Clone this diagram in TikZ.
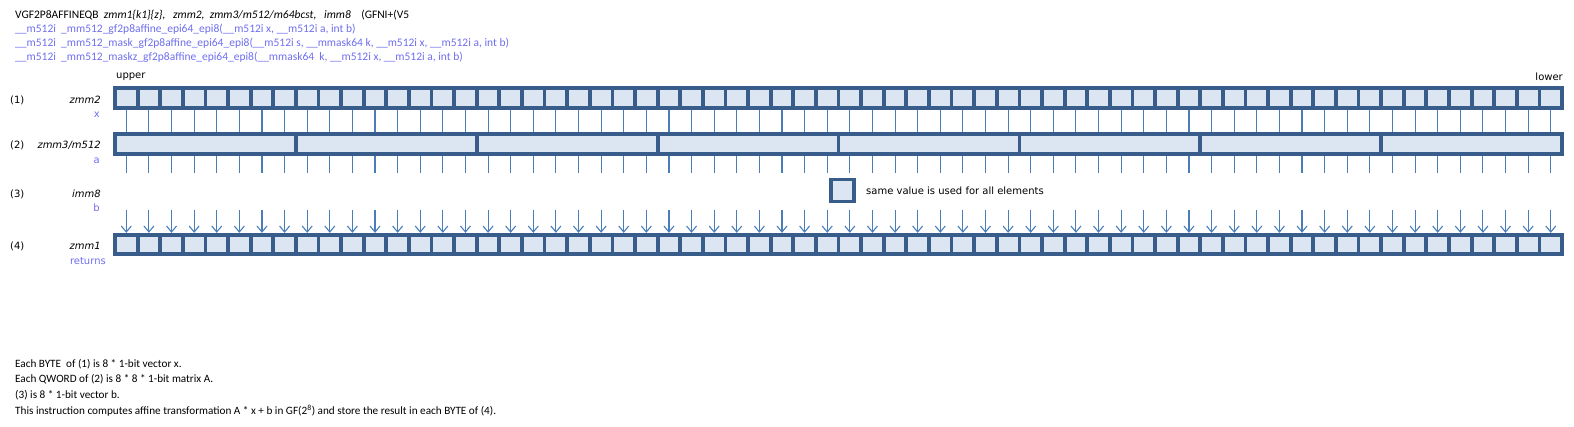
\documentclass[tikz,border=0pt]{standalone}
\usepackage{fontspec}
\setmainfont{Carlito}
\newfontfamily\lblfont{DejaVu Sans}
\usetikzlibrary{arrows.meta}

\definecolor{regline}{RGB}{56,93,138}
\definecolor{regfill}{RGB}{220,230,242}
\definecolor{conline}{RGB}{74,126,187}
\definecolor{argblue}{RGB}{110,110,240}

\begin{document}
\begin{tikzpicture}[x=1pt,y=-1pt,
  txt/.style={font=\fontsize{11.5}{13}\selectfont,inner sep=0pt,anchor=west},
  note/.style={font=\fontsize{11.2}{13}\selectfont,inner sep=0pt,anchor=west},
  lbl/.style={font=\lblfont\fontsize{10}{12}\selectfont,inner sep=0pt},
  cell/.style={draw=regline,fill=regfill,line width=3.8pt,minimum height=20pt,inner sep=0pt},
  con/.style={draw=conline,line width=1.1pt}]

  % Fixed page size
  \useasboundingbox (0,0) rectangle (1574,427);

  % Instruction and intrinsics
  \node[txt] (ins) at (15,15) {VGF2P8AFFINEQB \ \textit{zmm1\{k1\}\{z\}, \ \ zmm2, \ zmm3/m512/m64bcst, \ \ imm8} \ \ \ (GFNI+(V5};
  \node[txt,argblue] (intr1) at (15,29) {\_\_m512i \ \_mm512\_gf2p8affine\_epi64\_epi8(\_\_m512i x, \_\_m512i a, int b)};
  \node[txt,argblue] (intr2) at (15,43) {\_\_m512i \ \_mm512\_mask\_gf2p8affine\_epi64\_epi8(\_\_m512i s, \_\_mmask64 k, \_\_m512i x, \_\_m512i a, int b)};
  \node[txt,argblue] (intr3) at (15,57) {\_\_m512i \ \_mm512\_maskz\_gf2p8affine\_epi64\_epi8(\_\_mmask64 \ k, \_\_m512i x, \_\_m512i a, int b)};

  % Row labels
  \node[lbl,anchor=west] (n1) at (10,100) {(1)};
  \node[lbl,anchor=east] (z2) at (101,100) {\itshape zmm2};
  \node[lbl,anchor=east,argblue] (vx) at (100,115) {x};
  \node[lbl,anchor=west] (n2) at (10,145) {(2)};
  \node[lbl,anchor=east] (z3) at (101,145) {\itshape zmm3/m512};
  \node[lbl,anchor=east,argblue] (va) at (100,161) {a};
  \node[lbl,anchor=west] (n3) at (10,194) {(3)};
  \node[lbl,anchor=east] (im) at (101,194) {\itshape imm8};
  \node[lbl,anchor=east,argblue] (vb) at (100,208) {b};
  \node[lbl,anchor=west] (n4) at (10,246) {(4)};
  \node[lbl,anchor=east] (z1) at (101,246) {\itshape zmm1};
  \node[lbl,anchor=east,argblue] (ret) at (106,261) {returns};

  \node[lbl,anchor=west] (up) at (116,77) {upper};
  \node[lbl,anchor=east] (lo) at (1563,77) {lower};

  % Registers: 64 bytes, 8 qwords, 64 result bytes
  \foreach \i in {1,...,64}
    \node[cell,minimum width=22.61pt] (x\i) at ({115+(\i-0.5)*22.61},98) {};
  \foreach \i in {1,...,8}
    \node[cell,minimum width=180.88pt] (a\i) at ({115+(\i-0.5)*180.88},144) {};
  \foreach \i in {1,...,64}
    \node[cell,minimum width=22.61pt,minimum height=19.5pt] (r\i) at ({115+(\i-0.5)*22.61},244.5) {};

  % Connectors for each byte
  \foreach \i in {1,...,64} {
    \coordinate (t\i) at ({115+(\i-0.5)*22.61},173);
    \coordinate (s\i) at ({115+(\i-0.5)*22.61},210);
    \draw[con] (x\i.south) -- (x\i.south |- a1.north);
    \draw[con] (x\i.south |- a1.south) -- (t\i);
    \draw[con,-{Straight Barb[length=6pt,width=10pt]}] (s\i) -- (r\i.north);
  }

  % Legend for imm8
  \node[cell,minimum width=23pt,minimum height=22pt] (same) at (842.5,190.5) {};
  \node[lbl,anchor=west] (samet) at (866,190.5) {same value is used for all elements};

  % Notes
  \node[note] (note1) at (15,364) {Each BYTE \ of (1) is 8 * 1-bit vector x.};
  \node[note] (note2) at (15,379.5) {Each QWORD of (2) is 8 * 8 * 1-bit matrix A.};
  \node[note] (note3) at (15,395) {(3) is 8 * 1-bit vector b.};
  \node[note] (note4) at (15,411) {This instruction computes affine transformation A * x + b in GF(2\textsuperscript{8}) and store the result in each BYTE of (4).};

\end{tikzpicture}
\end{document}
